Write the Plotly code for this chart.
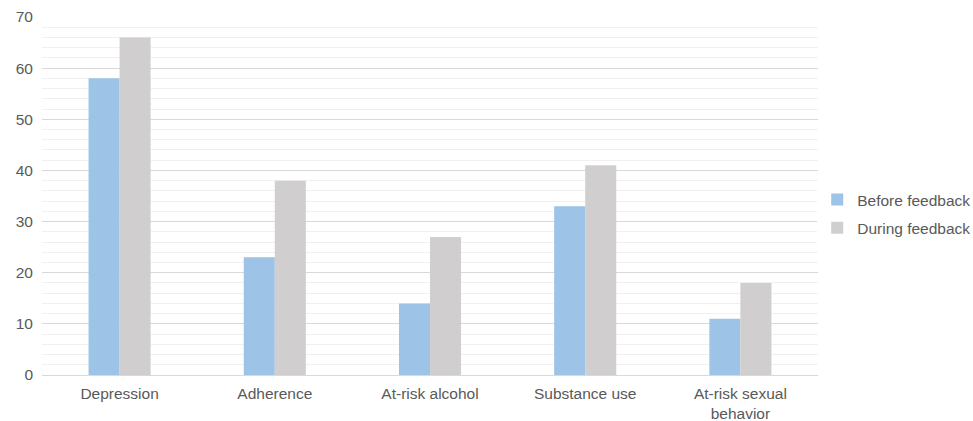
import plotly.graph_objects as go

categories = ["Depression", "Adherence", "At-risk alcohol", "Substance use", "At-risk sexual<br>behavior"]
before_feedback = [58, 23, 14, 33, 11]
during_feedback = [66, 38, 27, 41, 18]
y_ticks = [0, 10, 20, 30, 40, 50, 60, 70]

font_family = "Liberation Sans, Arial, sans-serif"
text_color = "#595959"
font_size = 15.5

fig = go.Figure()
fig.add_trace(go.Bar(name="Before feedback", x=categories, y=before_feedback,
                     legendgroup="before",
                     marker=dict(color="#9DC3E6", line=dict(width=0))))
fig.add_trace(go.Bar(name="During feedback", x=categories, y=during_feedback,
                     legendgroup="during",
                     marker=dict(color="#D0CECE", line=dict(width=0))))

fig.update_layout(
    width=973, height=421,
    margin=dict(l=42, r=155, t=17, b=46, autoexpand=False),
    paper_bgcolor="white", plot_bgcolor="white",
    barmode="group", bargap=0.6, bargroupgap=0,
    font=dict(family=font_family, size=font_size, color=text_color),
    legend=dict(x=0.999, y=0.45, xanchor="left", yanchor="middle",
                font=dict(size=font_size, color=text_color),
                itemwidth=30, tracegroupgap=5),
    showlegend=True,
)
fig.update_xaxes(
    automargin=False,
    showgrid=False, showline=True, linecolor="#D9D9D9", linewidth=1,
    ticks="", tickfont=dict(size=font_size, color=text_color),
    ticklabelstandoff=4,
)
fig.update_yaxes(
    automargin=False,
    range=[0, 70], tickvals=y_ticks, ticks="",
    showgrid=True, gridcolor="#D9D9D9", gridwidth=1,
    minor=dict(dtick=2, showgrid=True, gridcolor="#F0F0F0", gridwidth=1),
    zeroline=False, showline=False,
    tickfont=dict(size=font_size, color=text_color),
    ticklabelstandoff=8,
)

fig.write_html("out.html")
